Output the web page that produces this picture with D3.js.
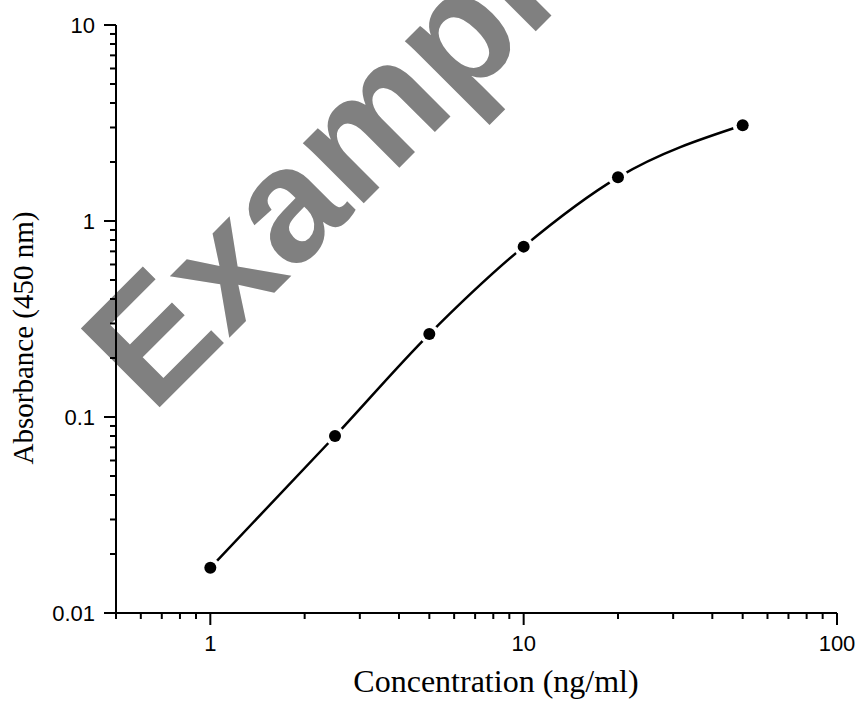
<!DOCTYPE html>
<html>
<head>
<meta charset="utf-8">
<script src="https://cdn.jsdelivr.net/npm/d3@7"></script>
<style>
  body { margin: 0; background: #fff; }
  .tick-label { font-family: "Liberation Sans", Arial, sans-serif; font-size: 22px; fill: #000; }
  .axis-title { font-family: "Liberation Serif", "Times New Roman", serif; font-size: 29px; fill: #000; }
</style>
</head>
<body>
<div id="chart"></div>
<script>
// standard curve points
const concentration = [1, 2.5, 5, 10, 20, 50];
const absorbance = [0.017, 0.08, 0.265, 0.74, 1.67, 3.08];
const xMajor = [1, 10, 100];
const yMajor = [0.01, 0.1, 1, 10];

const width = 858, height = 702;
const plot = { left: 116, right: 837, top: 25, bottom: 613 };

const svg = d3.select("#chart")
  .append("svg")
  .attr("width", width)
  .attr("height", height);

const x = d3.scaleLog().domain([0.5, 100]).range([plot.left, plot.right]);
const y = d3.scaleLog().domain([0.01, 10]).range([plot.bottom, plot.top]);

// watermark
svg.append("text")
  .attr("transform", "translate(152,415) rotate(-45)")
  .style("font-family", "'Liberation Sans', Arial, sans-serif")
  .style("font-weight", "bold")
  .style("font-size", "162px")
  .attr("fill", "#808080")
  .text("Example");

// minor ticks: every integer multiple inside each decade
const minor = (lo, hi) => {
  const out = [];
  for (let e = Math.floor(Math.log10(lo)); e < Math.ceil(Math.log10(hi)); e++) {
    for (let k = 1; k < 10; k++) {
      const v = k * Math.pow(10, e);
      if (v >= lo - 1e-9 && v <= hi + 1e-9) out.push(v);
    }
  }
  out.push(hi);
  return out;
};
const isMajor = (list, d) => list.some(m => Math.abs(m - d) < 1e-9);

const xAxis = svg.append("g").attr("transform", `translate(0,${plot.bottom})`);
xAxis.append("line").attr("x1", plot.left).attr("x2", plot.right).attr("stroke", "#000").attr("stroke-width", 2);
xAxis.selectAll(".minor").data(minor(0.5, 100)).enter().append("line")
  .attr("x1", d => x(d)).attr("x2", d => x(d))
  .attr("y1", 0).attr("y2", d => isMajor(xMajor, d) ? 12 : 6)
  .attr("stroke", "#000").attr("stroke-width", 2);
xAxis.selectAll(".lbl").data(xMajor).enter().append("text")
  .attr("class", "tick-label")
  .attr("x", d => x(d)).attr("y", 38)
  .attr("text-anchor", "middle")
  .text(d => d3.format("~g")(d));

const yAxis = svg.append("g").attr("transform", `translate(${plot.left},0)`);
yAxis.append("line").attr("y1", plot.top).attr("y2", plot.bottom).attr("stroke", "#000").attr("stroke-width", 2);
yAxis.selectAll(".minor").data(minor(0.01, 10)).enter().append("line")
  .attr("y1", d => y(d)).attr("y2", d => y(d))
  .attr("x1", 0).attr("x2", d => isMajor(yMajor, d) ? -12 : -6)
  .attr("stroke", "#000").attr("stroke-width", 2);
yAxis.selectAll(".lbl").data(yMajor).enter().append("text")
  .attr("class", "tick-label")
  .attr("x", -21).attr("y", d => y(d))
  .attr("dy", "0.36em")
  .attr("text-anchor", "end")
  .text(d => d3.format("~g")(d));

svg.append("text")
  .attr("class", "axis-title")
  .style("font-size", "32px")
  .attr("x", 496).attr("y", 692)
  .attr("text-anchor", "middle")
  .text("Concentration (ng/ml)");

svg.append("text")
  .attr("class", "axis-title")
  .attr("transform", "translate(33,338) rotate(-90)")
  .attr("text-anchor", "middle")
  .text("Absorbance (450 nm)");

// fitted curve
const pts = concentration.map((c, i) => [c, absorbance[i]]);
const line = d3.line()
  .x(d => x(d[0]))
  .y(d => y(d[1]))
  .curve(d3.curveMonotoneX);

svg.append("path")
  .datum(pts)
  .attr("d", line)
  .attr("fill", "none")
  .attr("stroke", "#000")
  .attr("stroke-width", 2.5);

// white halo gives the gap between curve and dot
svg.selectAll(".halo").data(pts).enter().append("circle")
  .attr("cx", d => x(d[0])).attr("cy", d => y(d[1]))
  .attr("r", 10).attr("fill", "#fff");

svg.selectAll(".dot").data(pts).enter().append("circle")
  .attr("cx", d => x(d[0])).attr("cy", d => y(d[1]))
  .attr("r", 6).attr("fill", "#000");
</script>
</body>
</html>
